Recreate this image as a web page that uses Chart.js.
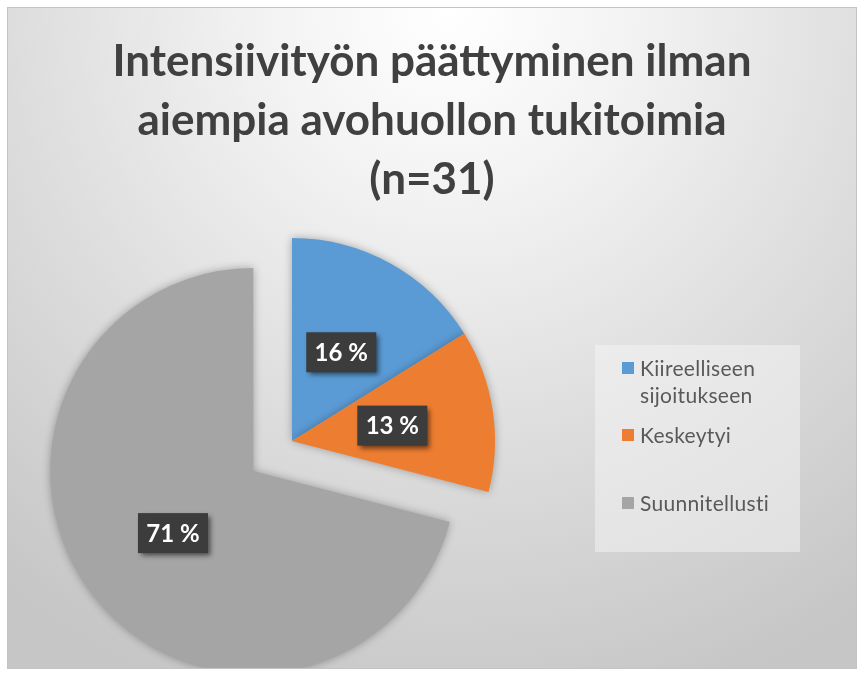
<!DOCTYPE html>
<html>
<head>
    <meta charset="utf-8">
    <title>Intensiivityön päättyminen ilman aiempia avohuollon tukitoimia</title>
    <script src="https://cdn.jsdelivr.net/npm/chart.js"></script>
    <style>
        body { margin: 0; background: #fff; }
        #wrap {
            position: absolute; left: 7px; top: 7px;
            width: 850px; height: 662px; box-sizing: border-box;
            border: 1px solid #c4c4c4; overflow: hidden;
            background: radial-gradient(ellipse 85% 110% at 52% 0%, #ffffff 0%, #f3f3f3 25%, #dcdcdc 62%, #c6c6c6 100%);
        }
        #pieChart { position: absolute; left: 0; top: 0; }
        #legend {
            position: absolute; left: 587px; top: 337px; width: 205px; height: 207px;
            background: rgba(245, 245, 245, 0.5);
            font: 21px Lato, sans-serif; color: #595959; letter-spacing: 0.3px;
        }
        .item { position: absolute; left: 27px; line-height: 27px; }
        .item:nth-child(1) { top: 9px; }
        .item:nth-child(2) { top: 76px; }
        .item:nth-child(3) { top: 144px; }
        .sw { position: absolute; left: 0; top: 8px; width: 12px; height: 12px; }
        .txt { display: block; margin-left: 18px; width: 150px; }
    </style>
</head>
<body>
    <div id="wrap">
        <canvas id="pieChart" width="848" height="660"></canvas>
        <div id="legend"></div>
    </div>
    <script>
        const titleLines = ['Intensiivityön päättyminen ilman', 'aiempia avohuollon tukitoimia', '(n=31)'];
        const categories = ['Kiireelliseen sijoitukseen', 'Keskeytyi', 'Suunnitellusti'];
        const counts = [5, 4, 22];
        const colors = ['#5B9BD5', '#ED7D31', '#A5A5A5'];

        // html legend, Excel style box on the right
        const legendBox = document.getElementById('legend');
        categories.forEach((name, i) => {
            const item = document.createElement('div');
            item.className = 'item';
            item.innerHTML = '<span class="sw" style="background:' + colors[i] + '"></span><span class="txt">' + name + '</span>';
            legendBox.appendChild(item);
        });

        // empty box on the right so the pie sits left but the title stays centred
        const rightSpace = {
            id: 'rightSpace',
            beforeInit(chart, args, opts) {
                const w = (opts && opts.width) || 280;
                Chart.layouts.addBox(chart, {
                    position: 'right',
                    weight: 0,
                    fullSize: false,
                    options: {},
                    isHorizontal() { return false; },
                    update(maxWidth, maxHeight) { this.width = w; this.height = maxHeight; },
                    draw() {},
                });
            }
        };

        // pulls single slices out of the pie (moves the whole slice, radius kept)
        const explodePlugin = {
            id: 'explode',
            afterDatasetUpdate(chart, args, opts) {
                const meta = chart.getDatasetMeta(args.index);
                meta.data.forEach((arc, i) => {
                    const d = (opts.distance || [])[i] || 0;
                    if (!d) return;
                    const mid = (arc.startAngle + arc.endAngle) / 2;
                    arc.x += Math.cos(mid) * d;
                    arc.y += Math.sin(mid) * d;
                });
            },
            beforeDatasetDraw(chart) {
                const ctx = chart.ctx;
                ctx.save();
                ctx.shadowColor = 'rgba(0, 0, 0, 0.3)';
                ctx.shadowBlur = 9;
            },
            afterDatasetDraw(chart) {
                chart.ctx.restore();
            }
        };

        // dark percentage boxes in the middle of each slice
        const boxLabels = {
            id: 'boxLabels',
            afterDatasetsDraw(chart) {
                const ctx = chart.ctx;
                const meta = chart.getDatasetMeta(0);
                const values = chart.data.datasets[0].data;
                const total = values.reduce((a, b) => a + b, 0);
                meta.data.forEach((arc, i) => {
                    const p = arc.getCenterPoint();
                    const text = Math.round(values[i] / total * 100) + ' %';
                    ctx.save();
                    ctx.shadowColor = 'rgba(0, 0, 0, 0.55)';
                    ctx.shadowBlur = 5;
                    ctx.shadowOffsetX = 3;
                    ctx.shadowOffsetY = 3;
                    ctx.fillStyle = '#3c3c3c';
                    ctx.fillRect(p.x - 35, p.y - 20, 70, 40);
                    ctx.restore();
                    ctx.save();
                    ctx.font = 'bold 24px Lato';
                    ctx.fillStyle = '#ffffff';
                    ctx.textAlign = 'center';
                    ctx.textBaseline = 'middle';
                    ctx.fillText(text, p.x, p.y + 1);
                    ctx.restore();
                });
            }
        };

        const ctx = document.getElementById('pieChart').getContext('2d');
        const pieChart = new Chart(ctx, {
            type: 'pie',
            data: {
                labels: categories,
                datasets: [{
                    data: counts,
                    backgroundColor: colors,
                    borderWidth: 0,
                }],
            },
            options: {
                responsive: false,
                animation: false,
                radius: 203,
                layout: { padding: 0 },
                plugins: {
                    legend: { display: false },
                    tooltip: { enabled: false },
                    explode: { distance: [0, 0, 49] },
                    rightSpace: { width: 280 },
                    title: {
                        display: true,
                        text: titleLines,
                        color: '#404040',
                        font: { family: 'Lato', size: 44, weight: 'bold', lineHeight: '59px' },
                        padding: { top: 24, bottom: 5 },
                    },
                },
            },
            plugins: [rightSpace, explodePlugin, boxLabels],
        });
    </script>
</body>
</html>
